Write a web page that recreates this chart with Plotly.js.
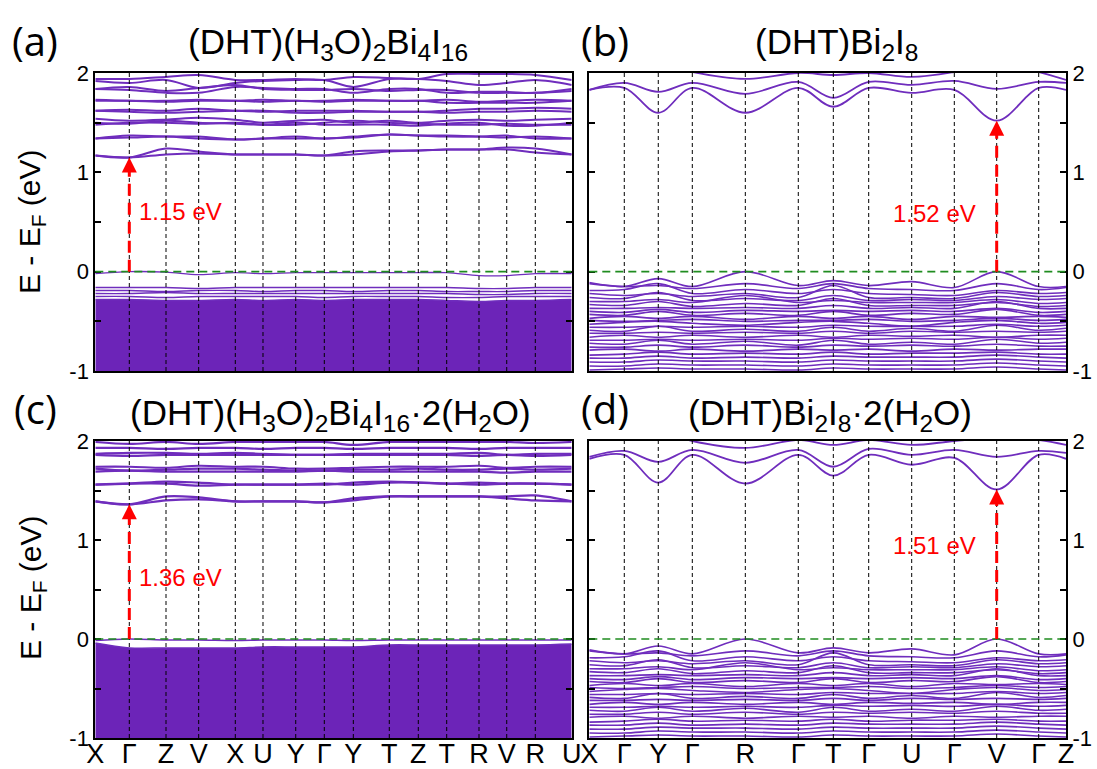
<!DOCTYPE html>
<html><head><meta charset="utf-8">
<script src="https://cdn.plot.ly/plotly-3.0.1.min.js"></script>
<style>html,body{margin:0;padding:0;background:#fff;}#plot{width:1097px;height:769px;}</style>
</head><body><div id="plot"></div>
<script>
// k-path positions (fraction of path length) and labels
const kA = [0, 0.0714, 0.1484, 0.2170, 0.2939, 0.3520, 0.4207, 0.4807, 0.5416, 0.6171, 0.6780, 0.7376, 0.8054, 0.8636, 0.9236, 1];
const labelsA = ['X','Γ','Z','V','X','U','Y','Γ','Y','T','Z','T','R','V','R','U'];
const kB = [0, 0.0734, 0.1447, 0.2161, 0.3273, 0.4384, 0.5119, 0.5861, 0.6763, 0.7657, 0.8546, 0.9427, 1];
const labelsB = ['X','Γ','Y','Γ','R','Γ','T','Γ','U','Γ','V','Γ','Z'];
const energyTicks = [-1, 0, 1, 2];

// (a) (DHT)(H3O)2Bi4I16 : conduction bands (eV) at kA points
const condA = [
 [1.17,1.15,1.18,1.19,1.18,1.18,1.18,1.17,1.18,1.21,1.22,1.23,1.23,1.23,1.20,1.18],
 [1.17,1.15,1.24,1.21,1.18,1.18,1.18,1.17,1.21,1.22,1.22,1.23,1.23,1.25,1.24,1.18],
 [1.34,1.35,1.36,1.34,1.33,1.34,1.36,1.34,1.36,1.38,1.37,1.37,1.36,1.35,1.36,1.34],
 [1.34,1.37,1.36,1.36,1.33,1.34,1.34,1.34,1.35,1.38,1.37,1.36,1.36,1.37,1.34,1.34],
 [1.54,1.52,1.53,1.55,1.53,1.50,1.52,1.53,1.50,1.52,1.50,1.52,1.53,1.52,1.53,1.54],
 [1.48,1.50,1.50,1.49,1.50,1.48,1.48,1.50,1.52,1.50,1.49,1.48,1.48,1.49,1.48,1.48],
 [1.50,1.49,1.52,1.50,1.49,1.48,1.50,1.48,1.48,1.48,1.47,1.49,1.50,1.47,1.47,1.50],
 [1.62,1.63,1.62,1.64,1.62,1.61,1.62,1.62,1.62,1.61,1.61,1.62,1.64,1.64,1.65,1.64],
 [1.62,1.61,1.60,1.61,1.62,1.62,1.60,1.60,1.61,1.61,1.61,1.60,1.61,1.61,1.62,1.61],
 [1.73,1.72,1.72,1.73,1.72,1.73,1.72,1.72,1.73,1.72,1.72,1.73,1.71,1.72,1.73,1.72],
 [1.72,1.72,1.71,1.72,1.72,1.71,1.72,1.71,1.72,1.72,1.72,1.70,1.70,1.70,1.70,1.72],
 [1.84,1.83,1.80,1.80,1.86,1.85,1.84,1.84,1.80,1.84,1.84,1.80,1.81,1.81,1.80,1.84],
 [1.84,1.86,1.82,1.85,1.88,1.84,1.83,1.83,1.84,1.82,1.83,1.83,1.80,1.80,1.80,1.82],
 [1.94,1.94,1.96,1.98,1.93,1.93,1.94,1.93,1.96,1.95,1.94,1.99,1.99,1.99,1.98,1.93],
 [1.92,1.90,1.93,1.85,1.90,1.92,1.93,1.93,1.86,1.94,1.94,1.92,1.88,1.90,1.93,1.88]
];
const valA = [
 [-0.02,0.00,-0.005,-0.03,-0.01,-0.02,-0.01,-0.01,-0.01,-0.01,-0.01,-0.01,-0.04,-0.04,-0.02,-0.02],
 [-0.16,-0.16,-0.16,-0.17,-0.16,-0.16,-0.16,-0.16,-0.16,-0.16,-0.16,-0.16,-0.17,-0.17,-0.16,-0.16],
 [-0.19,-0.19,-0.20,-0.19,-0.19,-0.20,-0.19,-0.19,-0.20,-0.19,-0.19,-0.20,-0.20,-0.20,-0.19,-0.19],
 [-0.22,-0.22,-0.21,-0.22,-0.22,-0.22,-0.22,-0.22,-0.22,-0.22,-0.22,-0.22,-0.23,-0.23,-0.22,-0.22],
 [-0.25,-0.25,-0.26,-0.25,-0.25,-0.25,-0.25,-0.26,-0.25,-0.25,-0.25,-0.26,-0.26,-0.25,-0.25,-0.25]
];
const denseTopA = [-0.28,-0.28,-0.29,-0.29,-0.28,-0.29,-0.28,-0.29,-0.28,-0.28,-0.28,-0.29,-0.30,-0.29,-0.29,-0.28];

// (b) (DHT)Bi2I8 at kB points
const condB = [
 [1.83,1.85,1.60,1.85,1.60,1.85,1.66,1.85,1.80,1.83,1.52,1.85,1.83],
 [1.83,1.90,1.81,1.90,1.79,1.91,1.75,1.91,1.88,1.92,1.84,1.91,1.90],
 [2.05,2.05,2.10,2.01,1.94,2.00,1.98,2.00,1.96,2.01,2.10,2.01,1.93]
];
const valB = [
 [-0.11,-0.15,-0.07,-0.15,0.00,-0.14,-0.09,-0.14,-0.10,-0.16,0.00,-0.15,-0.15],
 [-0.12,-0.15,-0.14,-0.17,-0.12,-0.17,-0.12,-0.17,-0.18,-0.19,-0.12,-0.18,-0.16],
 [-0.19,-0.18,-0.12,-0.22,-0.18,-0.22,-0.18,-0.22,-0.23,-0.24,-0.19,-0.22,-0.21],
 [-0.22,-0.24,-0.22,-0.25,-0.22,-0.26,-0.14,-0.26,-0.26,-0.27,-0.21,-0.25,-0.24],
 [-0.26,-0.27,-0.21,-0.29,-0.27,-0.29,-0.24,-0.29,-0.28,-0.29,-0.25,-0.28,-0.27],
 [-0.30,-0.30,-0.28,-0.31,-0.24,-0.31,-0.29,-0.31,-0.31,-0.31,-0.28,-0.32,-0.31],
 [-0.33,-0.34,-0.30,-0.35,-0.32,-0.34,-0.27,-0.34,-0.34,-0.34,-0.31,-0.35,-0.34],
 [-0.37,-0.37,-0.36,-0.37,-0.36,-0.37,-0.34,-0.37,-0.36,-0.37,-0.30,-0.37,-0.37],
 [-0.40,-0.41,-0.38,-0.41,-0.39,-0.40,-0.39,-0.40,-0.39,-0.40,-0.37,-0.41,-0.40],
 [-0.43,-0.44,-0.40,-0.44,-0.42,-0.44,-0.40,-0.44,-0.42,-0.43,-0.38,-0.44,-0.43],
 [-0.47,-0.45,-0.47,-0.45,-0.48,-0.45,-0.47,-0.45,-0.48,-0.45,-0.46,-0.45,-0.46],
 [-0.49,-0.50,-0.49,-0.48,-0.50,-0.49,-0.49,-0.48,-0.50,-0.49,-0.47,-0.49,-0.48],
 [-0.53,-0.51,-0.50,-0.52,-0.54,-0.51,-0.50,-0.52,-0.55,-0.51,-0.49,-0.52,-0.51],
 [-0.56,-0.56,-0.55,-0.56,-0.55,-0.56,-0.54,-0.55,-0.55,-0.55,-0.53,-0.55,-0.54],
 [-0.59,-0.60,-0.55,-0.60,-0.58,-0.60,-0.56,-0.60,-0.57,-0.60,-0.54,-0.59,-0.57],
 [-0.62,-0.62,-0.61,-0.62,-0.61,-0.62,-0.60,-0.62,-0.60,-0.61,-0.60,-0.61,-0.60],
 [-0.66,-0.64,-0.66,-0.64,-0.66,-0.64,-0.66,-0.64,-0.65,-0.64,-0.66,-0.64,-0.64],
 [-0.69,-0.69,-0.68,-0.69,-0.68,-0.69,-0.67,-0.68,-0.67,-0.68,-0.66,-0.68,-0.67],
 [-0.72,-0.73,-0.69,-0.73,-0.70,-0.74,-0.69,-0.73,-0.71,-0.73,-0.68,-0.72,-0.71],
 [-0.76,-0.76,-0.74,-0.76,-0.74,-0.76,-0.74,-0.75,-0.74,-0.75,-0.73,-0.75,-0.75],
 [-0.79,-0.78,-0.80,-0.78,-0.80,-0.78,-0.79,-0.78,-0.80,-0.78,-0.79,-0.78,-0.78],
 [-0.84,-0.83,-0.81,-0.83,-0.82,-0.83,-0.81,-0.83,-0.82,-0.82,-0.81,-0.83,-0.83],
 [-0.87,-0.87,-0.85,-0.87,-0.86,-0.87,-0.85,-0.86,-0.86,-0.86,-0.84,-0.86,-0.87],
 [-0.91,-0.91,-0.89,-0.90,-0.90,-0.91,-0.89,-0.90,-0.90,-0.90,-0.88,-0.90,-0.91],
 [-0.95,-0.95,-0.93,-0.94,-0.94,-0.95,-0.93,-0.94,-0.94,-0.94,-0.92,-0.94,-0.95],
 [-0.99,-0.98,-0.97,-0.98,-0.98,-0.99,-0.97,-0.98,-0.98,-0.98,-0.96,-0.98,-0.99]
];

// (c) (DHT)(H3O)2Bi4I16·2(H2O) at kA points
const condC = [
 [1.39,1.36,1.40,1.41,1.39,1.39,1.39,1.38,1.40,1.44,1.44,1.44,1.44,1.42,1.40,1.39],
 [1.39,1.36,1.44,1.43,1.39,1.39,1.39,1.38,1.42,1.44,1.44,1.44,1.44,1.44,1.45,1.39],
 [1.56,1.57,1.59,1.58,1.56,1.56,1.56,1.57,1.56,1.58,1.58,1.57,1.58,1.57,1.57,1.56],
 [1.56,1.57,1.57,1.55,1.56,1.56,1.56,1.56,1.58,1.59,1.58,1.57,1.56,1.57,1.57,1.56],
 [1.74,1.74,1.73,1.75,1.74,1.74,1.72,1.72,1.73,1.74,1.74,1.74,1.75,1.73,1.74,1.74],
 [1.72,1.70,1.71,1.72,1.72,1.71,1.70,1.70,1.71,1.71,1.72,1.71,1.71,1.72,1.71,1.72],
 [1.69,1.70,1.69,1.69,1.69,1.69,1.69,1.70,1.69,1.69,1.69,1.69,1.69,1.68,1.69,1.69],
 [1.93,1.93,1.92,1.93,1.93,1.92,1.93,1.93,1.92,1.93,1.93,1.93,1.92,1.93,1.93,1.93],
 [1.87,1.88,1.88,1.87,1.88,1.87,1.86,1.86,1.87,1.87,1.87,1.87,1.88,1.86,1.87,1.87],
 [1.86,1.85,1.86,1.86,1.86,1.86,1.86,1.86,1.86,1.86,1.86,1.86,1.85,1.86,1.85,1.86],
 [1.99,1.97,1.99,1.97,1.99,1.99,1.99,1.99,1.96,1.99,1.99,1.99,1.99,1.99,1.98,1.99]
];
const valC = [
 [-0.015,0.00,-0.01,-0.01,-0.015,-0.01,-0.01,-0.01,-0.015,-0.01,-0.01,-0.01,-0.01,-0.01,-0.01,-0.01]
];
const denseTopC = [-0.04,-0.09,-0.09,-0.09,-0.09,-0.08,-0.08,-0.08,-0.08,-0.06,-0.06,-0.06,-0.06,-0.06,-0.06,-0.05];

// (d) (DHT)Bi2I8·2(H2O) at kB points
const condD = [
 [1.82,1.86,1.58,1.86,1.57,1.86,1.65,1.86,1.76,1.83,1.51,1.86,1.82],
 [1.84,1.90,1.79,1.91,1.78,1.91,1.74,1.92,1.86,1.91,1.84,1.90,1.88],
 [2.05,2.05,2.10,2.00,1.93,2.01,1.96,2.01,1.96,2.00,2.03,2.01,1.96]
];
const valD = valB;

const gaps = [1.15, 1.52, 1.36, 1.51];
const gapLabels = ['1.15 eV','1.52 eV','1.36 eV','1.51 eV'];

const PURPLE = '#6f2dbd';
const traces = [];
function addBands(k, bands, xa, ya, w){
  bands.forEach(b => traces.push({x:k, y:b, xaxis:xa, yaxis:ya, mode:'lines',
    line:{color:PURPLE, width:w, shape:'spline', smoothing:1}, hoverinfo:'skip', showlegend:false}));
}
function addDense(k, top, xa, ya){
  traces.push({x:k, y:k.map(()=>-1.3), xaxis:xa, yaxis:ya, mode:'lines', line:{width:0, color:PURPLE}, hoverinfo:'skip', showlegend:false});
  traces.push({x:k, y:top, xaxis:xa, yaxis:ya, mode:'lines', fill:'tonexty', fillcolor:'#6c24b8',
    line:{color:PURPLE, width:1.5, shape:'spline', smoothing:1}, hoverinfo:'skip', showlegend:false});
}
addDense(kA, denseTopA, 'x', 'y');
addBands(kA, condA, 'x', 'y', 2); addBands(kA, valA, 'x', 'y', 1.4);
addBands(kB, condB, 'x2', 'y2', 1.8); addBands(kB, valB, 'x2', 'y2', 1.6);
addDense(kA, denseTopC, 'x3', 'y3');
addBands(kA, condC, 'x3', 'y3', 2.2); addBands(kA, valC, 'x3', 'y3', 1.6);
addBands(kB, condD, 'x4', 'y4', 1.8); addBands(kB, valD, 'x4', 'y4', 1.6);

const XD1 = [95.3/1097, 571.7/1097], XD2 = [589.3/1097, 1066/1097];
const YD1 = [1-371/769, 1-73/769], YD2 = [1-738/769, 1-441/769];
const tickFont = {family:'Liberation Sans, Arial, sans-serif', size:22, color:'#000'};
const kFont = {family:'Liberation Sans Narrow, Liberation Sans, Arial, sans-serif', size:27, color:'#000'};
function xax(dom, anchor, k, labels, show){
  return {domain:dom, anchor:anchor, range:[0,1], tickvals:k, ticktext:labels, showticklabels:show,
    tickfont:kFont, ticks:'', ticklabelstandoff:-9, showgrid:false, zeroline:false, showline:true, mirror:true,
    linecolor:'#000', linewidth:2, fixedrange:true};
}
function yax(dom, anchor, side){
  return {domain:dom, anchor:anchor, range:[-1,2], side:side,
    tickvals:energyTicks, ticktext:energyTicks.map(String),
    ticks:'inside', ticklen:6, tickwidth:2, tickcolor:'#000', tickfont:tickFont,
    minor:{dtick:0.5, tick0:0, ticks:'inside', ticklen:6, tickwidth:2, tickcolor:'#000', showgrid:false},
    showgrid:false, zeroline:false, showline:true, mirror:'ticks', linecolor:'#000', linewidth:2, fixedrange:true};
}

const shapes = [];
function vlines(k, xa, ya){
  k.slice(1,-1).forEach(v => shapes.push({type:'line', xref:xa, yref:ya+' domain', x0:v, x1:v, y0:0, y1:1,
    line:{color:'#000', width:1, dash:'4px,3px'}, layer:'above'}));
  shapes.push({type:'line', xref:xa+' domain', yref:ya, x0:0, x1:1, y0:0, y1:0,
    line:{color:'#1f8c1f', width:1.6, dash:'8px,5px'}, layer:'above'});
}
vlines(kA,'x','y'); vlines(kB,'x2','y2'); vlines(kA,'x3','y3'); vlines(kB,'x4','y4');

const arrowK = [kA[1], kB[10], kA[1], kB[10]];
const axN = [['x','y'],['x2','y2'],['x3','y3'],['x4','y4']];
const annotations = [];
for (let i=0;i<4;i++){
  const [xa,ya] = axN[i];
  shapes.push({type:'line', xref:xa, yref:ya, x0:arrowK[i], x1:arrowK[i], y0:0, y1:gaps[i]-0.06,
    line:{color:'#ff0000', width:3, dash:'12px,7px'}, layer:'above'});
  annotations.push({xref:xa, yref:ya, x:arrowK[i], y:gaps[i], axref:xa, ayref:ya, ax:arrowK[i], ay:gaps[i]-0.12,
    text:'', showarrow:true, arrowhead:2, arrowsize:1, arrowwidth:3, arrowcolor:'#ff0000'});
}
const redFont = {family:'Liberation Sans, Arial, sans-serif', size:24, color:'#ff0000'};
annotations.push({xref:'x', yref:'y', x:kA[1]+0.016, y:0.61, xanchor:'left', yanchor:'middle', text:gapLabels[0], showarrow:false, font:redFont});
annotations.push({xref:'x2', yref:'y2', x:0.8155, y:0.59, xanchor:'right', yanchor:'middle', text:gapLabels[1], showarrow:false, font:redFont});
annotations.push({xref:'x3', yref:'y3', x:kA[1]+0.016, y:0.62, xanchor:'left', yanchor:'middle', text:gapLabels[2], showarrow:false, font:redFont});
annotations.push({xref:'x4', yref:'y4', x:0.8155, y:0.94, xanchor:'right', yanchor:'middle', text:gapLabels[3], showarrow:false, font:redFont});

const titleFont = {family:'Liberation Sans, Arial, sans-serif', size:35, color:'#000'};
const panelFont = {family:'Open Sans, Noto Sans, sans-serif', size:40, color:'#000'};
const titles = [
  ['(DHT)(H<sub>3</sub>O)<sub>2</sub>Bi<sub>4</sub>I<sub>16</sub>', 328, 44],
  ['(DHT)Bi<sub>2</sub>I<sub>8</sub>', 836, 44],
  ['(DHT)(H<sub>3</sub>O)<sub>2</sub>Bi<sub>4</sub>I<sub>16</sub>·2(H<sub>2</sub>O)', 330, 415],
  ['(DHT)Bi<sub>2</sub>I<sub>8</sub>·2(H<sub>2</sub>O)', 830, 415]
];
titles.forEach(t => annotations.push({xref:'paper', yref:'paper', x:t[1]/1097, y:1-t[2]/769, xanchor:'center', yanchor:'middle',
  text:t[0], showarrow:false, font:titleFont}));
[['(a)',35,40],['(b)',605,40],['(c)',35,408],['(d)',605,408]].forEach(p => annotations.push({xref:'paper', yref:'paper',
  x:p[1]/1097, y:1-p[2]/769, xanchor:'center', yanchor:'middle', text:p[0], showarrow:false, font:panelFont}));
const yTitleFont = {family:'Liberation Sans, Arial, sans-serif', size:30, color:'#000'};
[222, 588].forEach(yc => annotations.push({xref:'paper', yref:'paper', x:32/1097, y:1-yc/769, xanchor:'center', yanchor:'middle',
  text:'E - E<sub>F</sub> (eV)', textangle:-90, showarrow:false, font:yTitleFont}));

const layout = {
  width:1097, height:769, margin:{l:0,r:0,t:0,b:0}, paper_bgcolor:'#fff', plot_bgcolor:'#fff', showlegend:false,
  xaxis: xax(XD1,'y',kA,labelsA,false), yaxis: yax(YD1,'x','left'),
  xaxis2: xax(XD2,'y2',kB,labelsB,false), yaxis2: yax(YD1,'x2','right'),
  xaxis3: xax(XD1,'y3',kA,labelsA,true), yaxis3: yax(YD2,'x3','left'),
  xaxis4: xax(XD2,'y4',kB,labelsB,true), yaxis4: yax(YD2,'x4','right'),
  shapes: shapes, annotations: annotations
};
Plotly.newPlot('plot', traces, layout, {staticPlot:true, displayModeBar:false});
</script></body></html>
